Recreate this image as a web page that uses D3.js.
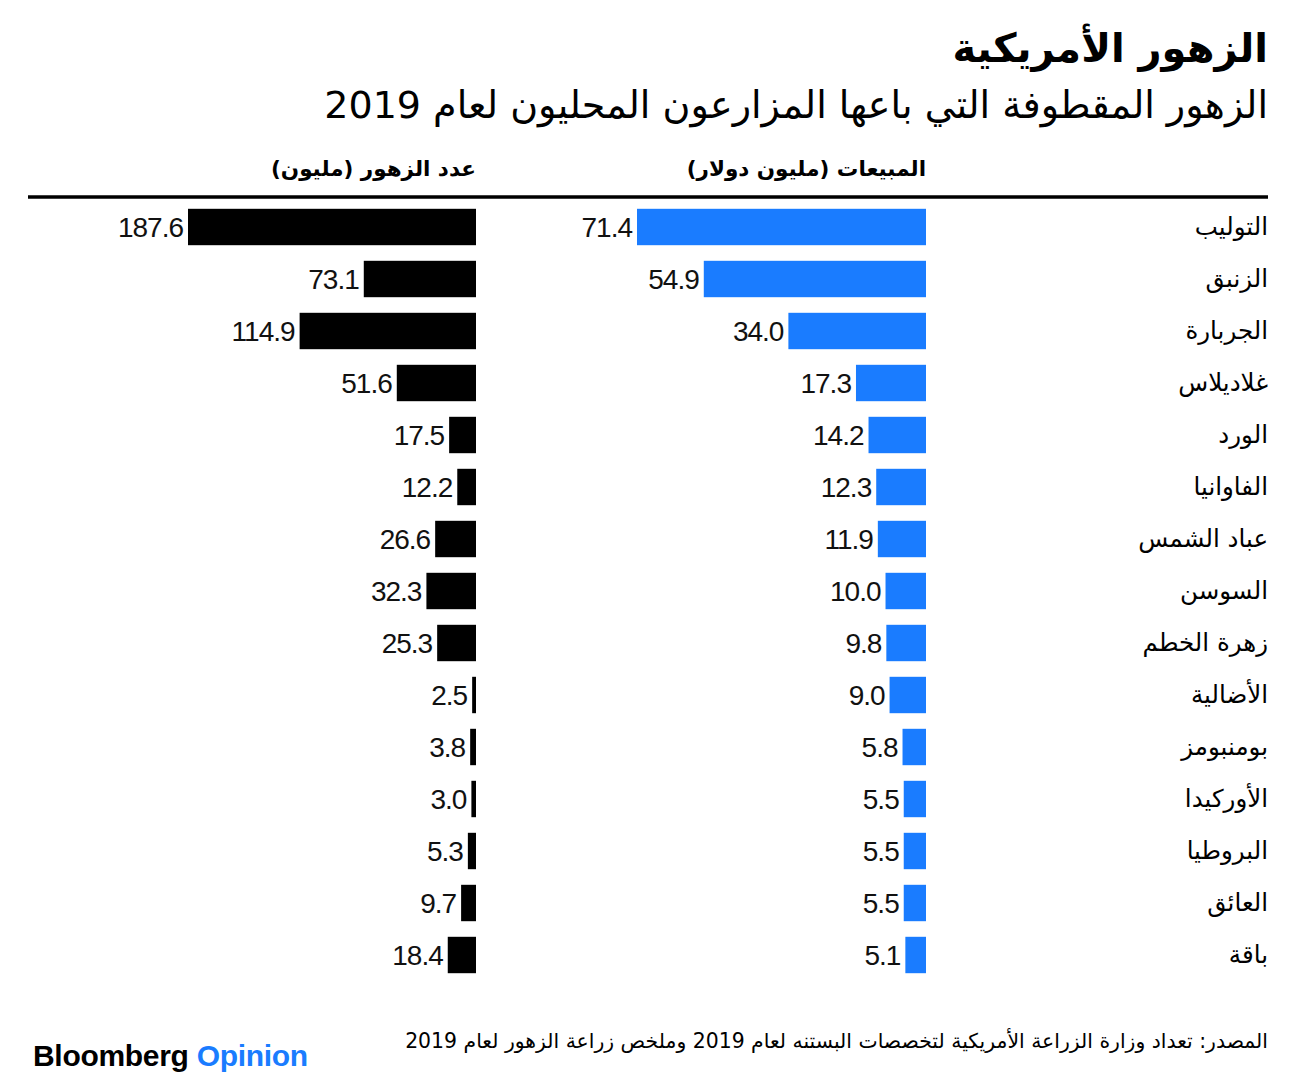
<!DOCTYPE html>
<html><head><meta charset="utf-8">
<script src="https://cdn.jsdelivr.net/npm/d3@7"></script>
<style>
body{margin:0;background:#fff;}
svg{display:block;}
.ar{font-family:"DejaVu Sans",sans-serif;}
.num{font-family:"Liberation Sans",Arial,sans-serif;}
</style></head>
<body>
<script>
const categories = ["التوليب","الزنبق","الجربارة","غلاديلاس","الورد","الفاوانيا","عباد الشمس","السوسن","زهرة الخطم","الأضالية","بومنبومز","الأوركيدا","البروطيا","العائق","باقة"];
const sales = [71.4,54.9,34.0,17.3,14.2,12.3,11.9,10.0,9.8,9.0,5.8,5.5,5.5,5.5,5.1];
const counts = [187.6,73.1,114.9,51.6,17.5,12.2,26.6,32.3,25.3,2.5,3.8,3.0,5.3,9.7,18.4];
const title = "الزهور الأمريكية";
const subtitle = "الزهور المقطوفة التي باعها المزارعون المحليون لعام 2019";
const salesHeader = "المبيعات (مليون دولار)";
const countHeader = "عدد الزهور (مليون)";
const source = "المصدر: تعداد وزارة الزراعة الأمريكية لتخصصات البستنه لعام 2019 وملخص زراعة الزهور لعام 2019";

const W = 1297, H = 1087;
const svg = d3.select("body").append("svg").attr("width", W).attr("height", H);

const y = d3.scaleBand().domain(categories).range([201, 981]).paddingInner(0.3).paddingOuter(0.15);
const xs = d3.scaleLinear().domain([0, 71.4]).range([926, 637]);
const xc = d3.scaleLinear().domain([0, 187.6]).range([476, 188]);

function rtl(sel){ return sel.attr("class","ar").attr("direction","rtl").attr("text-anchor","start"); }

// title
rtl(svg.append("text")).attr("x",1268).attr("y",62)
  .attr("font-size",40).attr("font-weight","bold").text(title);
rtl(svg.append("text")).attr("x",1268).attr("y",118)
  .attr("font-size",38).text(subtitle);

// headers
rtl(svg.append("text")).attr("x",926).attr("y",176)
  .attr("font-size",21.5).attr("font-weight","bold").text(salesHeader);
rtl(svg.append("text")).attr("x",476).attr("y",176)
  .attr("font-size",21.5).attr("font-weight","bold").text(countHeader);

svg.append("line").attr("x1",28).attr("x2",1268).attr("y1",197).attr("y2",197)
  .attr("stroke","#000").attr("stroke-width",3.5);

// category labels
rtl(svg.append("g").selectAll("text").data(categories).join("text"))
  .attr("x",1268).attr("y",d=>y(d)+y.bandwidth()/2).attr("dy","0.32em")
  .attr("font-size",24.5).text(d=>d);

// sales bars
svg.append("g").selectAll("rect").data(sales).join("rect")
  .attr("x",d=>xs(d)).attr("width",d=>xs(0)-xs(d))
  .attr("y",(d,i)=>y(categories[i])).attr("height",y.bandwidth()).attr("fill","#1a7cff");
svg.append("g").selectAll("text").data(sales).join("text")
  .attr("class","num").attr("x",d=>xs(d)-5).attr("y",(d,i)=>y(categories[i])+y.bandwidth()/2).attr("dy","0.36em")
  .attr("text-anchor","end").attr("font-size",28).attr("letter-spacing","-1").attr("fill","#111").text(d=>d.toFixed(1));

// count bars
svg.append("g").selectAll("rect").data(counts).join("rect")
  .attr("x",d=>xc(d)).attr("width",d=>xc(0)-xc(d))
  .attr("y",(d,i)=>y(categories[i])).attr("height",y.bandwidth()).attr("fill","#000");
svg.append("g").selectAll("text").data(counts).join("text")
  .attr("class","num").attr("x",d=>xc(d)-5).attr("y",(d,i)=>y(categories[i])+y.bandwidth()/2).attr("dy","0.36em")
  .attr("text-anchor","end").attr("font-size",28).attr("letter-spacing","-1").attr("fill","#111").text(d=>d.toFixed(1));

// footer
rtl(svg.append("text")).attr("x",1268).attr("y",1048)
  .attr("font-size",20.4).text(source);
const logo = svg.append("text").attr("class","num").attr("x",33).attr("y",1066)
  .attr("font-size",30).attr("font-weight","bold").attr("letter-spacing","-0.3");
logo.append("tspan").attr("fill","#000").text("Bloomberg ");
logo.append("tspan").attr("fill","#1a7cff").text("Opinion");
</script>
</body></html>
